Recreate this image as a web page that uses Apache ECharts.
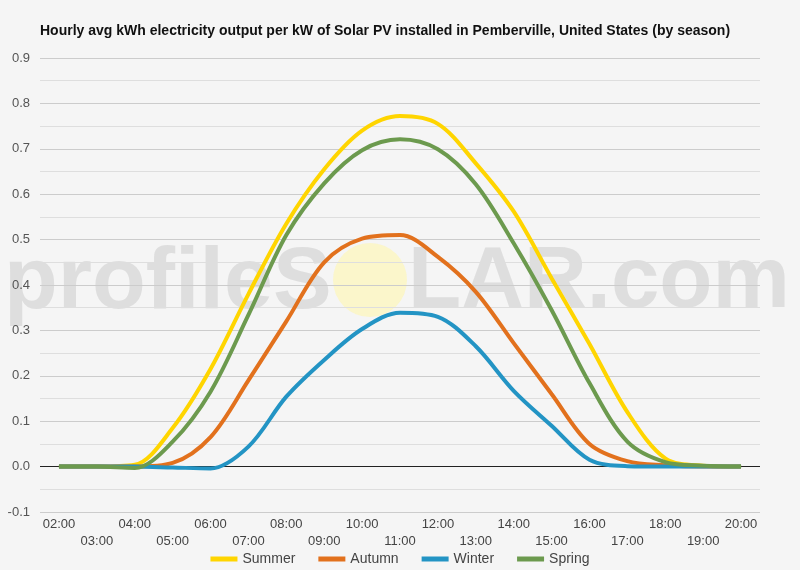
<!DOCTYPE html>
<html>
<head>
<meta charset="utf-8">
<script src="https://cdn.jsdelivr.net/npm/echarts@6/dist/echarts.min.js"></script>
<style>
html,body{margin:0;padding:0;background:#f5f5f5;}
#chart{width:800px;height:570px;}
</style>
</head>
<body>
<div id="chart"></div>
<script>
const hours = ['02:00','03:00','04:00','05:00','06:00','07:00','08:00','09:00','10:00','11:00','12:00','13:00','14:00','15:00','16:00','17:00','18:00','19:00','20:00'];
const summer = [0,0,0.004,0.085,0.215,0.38,0.535,0.655,0.74,0.772,0.755,0.668,0.562,0.415,0.27,0.12,0.018,0.002,0];
const autumn = [0,0,0,0.008,0.065,0.19,0.32,0.45,0.502,0.51,0.462,0.385,0.272,0.16,0.05,0.012,0.003,0,0];
const winter = [0,0,0,-0.002,-0.004,0.044,0.154,0.235,0.303,0.339,0.33,0.265,0.167,0.09,0.015,0.001,0,0,0];
const spring = [0,0,-0.003,0.055,0.165,0.334,0.51,0.624,0.697,0.721,0.699,0.622,0.492,0.345,0.184,0.055,0.01,0.002,0];
const seriesNames = ['Summer','Autumn','Winter','Spring'];
const seriesColors = ['#FFD500','#E2711D','#2394C4','#6C9A4E'];
const seriesData = [summer, autumn, winter, spring];

const chart = echarts.init(document.getElementById('chart'), null, {renderer:'canvas'});
const font = 'Arial, "Liberation Sans", sans-serif';
const option = {
  backgroundColor: '#f5f5f5',
  animation: false,
  title: {
    text: 'Hourly avg kWh electricity output per kW of Solar PV installed in Pemberville, United States (by season)',
    left: 35, top: 19,
    textStyle: {fontSize: 14, fontWeight: 'bold', color: '#111', fontFamily: font}
  },
  graphic: [
    {type:'text', left: 4, top: 240, z: 0, silent: true,
     style:{text:'profileS', font:'bold 88px ' + font, fill:'rgba(216,216,216,0.8)'}},
    {type:'circle', shape:{cx:370, cy:280, r:37}, z: 0, silent: true,
     style:{fill:'rgba(252,246,195,0.85)'}},
    {type:'text', left: 408, top: 240, z: 0, silent: true,
     style:{text:'LAR.com', font:'bold 87px ' + font, fill:'rgba(216,216,216,0.8)'}}
  ],
  legend: {
    data: seriesNames,
    bottom: -1, left: 'center',
    icon: 'rect', itemWidth: 27, itemHeight: 5, itemGap: 23,
    textStyle: {fontSize: 14, color: '#444', fontFamily: font}
  },
  grid: {left: 40, right: 40, top: 58, bottom: 58},
  xAxis: {
    type: 'category', data: hours, boundaryGap: true,
    axisLine: {show: false}, axisTick: {show: false},
    axisLabel: {
      interval: 0, color: '#444', fontSize: 13, fontFamily: font, margin: 4, lineHeight: 17,
      formatter: function (v, i) { return i % 2 ? '\n' + v : v; }
    }
  },
  yAxis: {
    type: 'value', min: -0.1, max: 0.9, interval: 0.1,
    axisLine: {show: false}, axisTick: {show: false},
    axisLabel: {color: '#555', fontSize: 13, fontFamily: font, margin: 10,
      formatter: function (v) { return v.toFixed(1); }},
    splitLine: {lineStyle: {color: '#cccccc', width: 1}},
    minorTick: {show: false, splitNumber: 2},
    minorSplitLine: {show: true, lineStyle: {color: '#dedede', width: 1}}
  },
  series: seriesNames.map(function (n, i) {
    const s = {
      name: n, type: 'line', data: seriesData[i], smooth: 0.33,
      showSymbol: false, symbol: 'none',
      lineStyle: {width: 4, color: seriesColors[i]},
      itemStyle: {color: seriesColors[i]}, z: 3 + i
    };
    if (i === 0) {
      s.markLine = {silent: true, symbol: 'none', label: {show: false},
        lineStyle: {color: '#222', width: 1, type: 'solid'},
        data: [{yAxis: 0}], z: 2};
    }
    return s;
  })
};
chart.setOption(option);
</script>
</body>
</html>
